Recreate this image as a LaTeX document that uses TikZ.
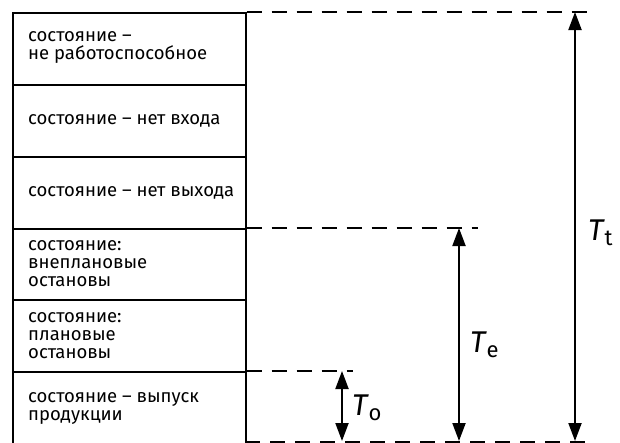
\documentclass[tikz,border=0pt]{standalone}
\usepackage{fontspec}
\setmainfont{Fira Sans}
\usetikzlibrary{arrows.meta}
\begin{document}
\begin{tikzpicture}[x=1pt,y=-1pt,
  box/.style={draw,line width=1.5pt,minimum width=233pt,inner sep=0pt,anchor=north west},
  lbl/.style={anchor=west,align=left,inner sep=0pt,font=\fontsize{18.5}{18}\selectfont},
  guide/.style={line width=2pt,dash pattern=on 15pt off 10pt},
  dim/.style={line width=2pt,{Triangle[length=18pt,width=13pt]}-{Triangle[length=18pt,width=13pt]}},
  sym/.style={anchor=west,inner sep=0pt}]
\useasboundingbox (0,0) rectangle (620,442);
% boxes
\node[box,minimum height=72pt] (b1) at (12,12) {};
\node[box,minimum height=72pt] (b2) at (12,84) {};
\node[box,minimum height=72pt] (b3) at (12,156) {};
\node[box,minimum height=71pt] (b4) at (12,228) {};
\node[box,minimum height=72pt] (b5) at (12,299) {};
\node[box,minimum height=73pt] (b6) at (12,371) {};
% texts
\node[lbl] (t1) at (28,47) {состояние –\\не работоспособное};
\node[lbl] (t2) at (28,121) {состояние – нет входа};
\node[lbl] (t3) at (28,193) {состояние – нет выхода};
\node[lbl] (t4) at (28,264) {состояние:\\внеплановые\\остановы};
\node[lbl] (t5) at (28,336) {состояние:\\плановые\\остановы};
\node[lbl] (t6) at (28,408) {состояние – выпуск\\продукции};
% guide ends
\coordinate (g1) at (588,12);
\coordinate (g2) at (478,228);
\coordinate (g3) at (353,371);
\coordinate (g4) at (590,441.5);
\coordinate (b6b) at (245,441.5);
\draw[guide] (b1.north east) -- (g1);
\draw[guide] (b4.north east) -- (g2);
\draw[guide] (b6.north east) -- (g3);
\draw[guide] (b6b) -- (g4);
% dimension arrows
\coordinate (tt1) at (575,12);
\coordinate (tt2) at (575,441);
\coordinate (te1) at (459,228);
\coordinate (te2) at (459,441);
\coordinate (to1) at (342,371);
\coordinate (to2) at (342,441);
\draw[dim] (tt1) -- (tt2);
\draw[dim] (te1) -- (te2);
\draw[dim] (to1) -- (to2);
\node[sym] (Lt) at (588,233) {\fontsize{30}{30}\selectfont\itshape T\hspace{1pt}\raisebox{-5pt}{\upshape\fontsize{22}{22}\selectfont t}};
\node[sym] (Le) at (470,345) {\fontsize{30}{30}\selectfont\itshape T\hspace{1pt}\raisebox{-5pt}{\upshape\fontsize{22}{22}\selectfont e}};
\node[sym] (Lo) at (352,408) {\fontsize{30}{30}\selectfont\itshape T\hspace{1pt}\raisebox{-5pt}{\upshape\fontsize{22}{22}\selectfont o}};
\end{tikzpicture}
\end{document}
